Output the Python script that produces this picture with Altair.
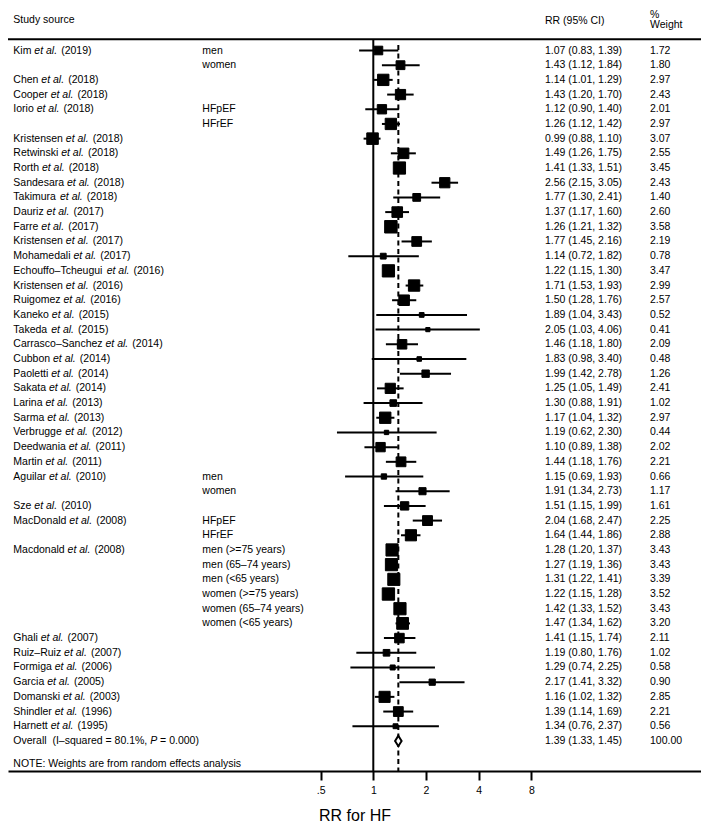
import math
import altair as alt
import pandas as pd

# ---------------- data ----------------
authors = ["Kim", "", "Chen", "Cooper", "Iorio", "", "Kristensen", "Retwinski", "Rorth",
           "Sandesara", "Takimura", "Dauriz", "Farre", "Kristensen", "Mohamedali",
           "Echouffo–Tcheugui", "Kristensen", "Ruigomez", "Kaneko", "Takeda",
           "Carrasco–Sanchez", "Cubbon", "Paoletti", "Sakata", "Larina", "Sarma",
           "Verbrugge", "Deedwania", "Martin", "Aguilar", "", "Sze", "MacDonald", "",
           "Macdonald", "", "", "", "", "", "Ghali", "Ruiz–Ruiz", "Formiga", "Garcia",
           "Domanski", "Shindler", "Harnett"]
years = ["2019", "", "2018", "2018", "2018", "", "2018", "2018", "2018", "2018", "2018",
         "2017", "2017", "2017", "2017", "2016", "2016", "2016", "2015", "2015", "2014",
         "2014", "2014", "2014", "2013", "2013", "2012", "2011", "2011", "2010", "",
         "2010", "2008", "", "2008", "", "", "", "", "", "2007", "2007", "2006", "2005",
         "2003", "1996", "1995"]
subgroups = ["men", "women", "", "", "HFpEF", "HFrEF", "", "", "", "", "", "", "", "", "",
             "", "", "", "", "", "", "", "", "", "", "", "", "", "", "men", "women", "",
             "HFpEF", "HFrEF", "men (>=75 years)", "men (65–74 years)", "men (<65 years)",
             "women (>=75 years)", "women (65–74 years)", "women (<65 years)",
             "", "", "", "", "", "", ""]
est = [1.07, 1.43, 1.14, 1.43, 1.12, 1.26, 0.99, 1.49, 1.41, 2.56, 1.77, 1.37, 1.26, 1.77,
       1.14, 1.22, 1.71, 1.50, 1.89, 2.05, 1.46, 1.83, 1.99, 1.25, 1.30, 1.17, 1.19, 1.10,
       1.44, 1.15, 1.91, 1.51, 2.04, 1.64, 1.28, 1.27, 1.31, 1.22, 1.42, 1.47, 1.41, 1.19,
       1.29, 2.17, 1.16, 1.39, 1.34]
lower = [0.83, 1.12, 1.01, 1.20, 0.90, 1.12, 0.88, 1.26, 1.33, 2.15, 1.30, 1.17, 1.21, 1.45,
         0.72, 1.15, 1.53, 1.28, 1.04, 1.03, 1.18, 0.98, 1.42, 1.05, 0.88, 1.04, 0.62, 0.89,
         1.18, 0.69, 1.34, 1.15, 1.68, 1.44, 1.20, 1.19, 1.22, 1.15, 1.33, 1.34, 1.15, 0.80,
         0.74, 1.41, 1.02, 1.14, 0.76]
upper = [1.39, 1.84, 1.29, 1.70, 1.40, 1.42, 1.10, 1.75, 1.51, 3.05, 2.41, 1.60, 1.32, 2.16,
         1.82, 1.30, 1.93, 1.76, 3.43, 4.06, 1.80, 3.40, 2.78, 1.49, 1.91, 1.32, 2.30, 1.38,
         1.76, 1.93, 2.73, 1.99, 2.47, 1.86, 1.37, 1.36, 1.41, 1.28, 1.52, 1.62, 1.74, 1.76,
         2.25, 3.32, 1.32, 1.69, 2.37]
weights = [1.72, 1.80, 2.97, 2.43, 2.01, 2.97, 3.07, 2.55, 3.45, 2.43, 1.40, 2.60, 3.58, 2.19,
           0.78, 3.47, 2.99, 2.57, 0.52, 0.41, 2.09, 0.48, 1.26, 2.41, 1.02, 2.97, 0.44, 2.02,
           2.21, 0.66, 1.17, 1.61, 2.25, 2.88, 3.43, 3.43, 3.39, 3.52, 3.43, 3.20, 2.11, 1.02,
           0.58, 0.90, 2.85, 2.21, 0.56]
overall_est, overall_lo, overall_hi, overall_w = 1.39, 1.33, 1.45, 100.00
i_squared = "80.1%"
p_value = "0.000"
tick_values = [0.5, 1, 2, 4, 8]

# ---------------- layout ----------------
FONT = "Liberation Sans"
FS = 10.5
PT = 6                      # top padding
W, H = 693, 763 - PT
ROW0, ROWSTEP = 42.5 - PT, 14.69
X1_PX, PX_PER_DOUBLING = 365.3, 52.7

HELV = {' ': 278, '(': 333, ')': 333, '.': 278, ',': 278, '%': 889, '=': 584, '–': 556,
        '-': 333, '<': 584, '>': 584,
        'A': 667, 'B': 667, 'C': 722, 'D': 722, 'E': 667, 'F': 611, 'G': 778, 'H': 722,
        'I': 278, 'J': 500, 'K': 667, 'L': 556, 'M': 833, 'N': 722, 'O': 778, 'P': 667,
        'Q': 778, 'R': 722, 'S': 667, 'T': 611, 'U': 722, 'V': 667, 'W': 944, 'X': 667,
        'Y': 667, 'Z': 611,
        'a': 556, 'b': 556, 'c': 500, 'd': 556, 'e': 556, 'f': 278, 'g': 556, 'h': 556,
        'i': 222, 'j': 222, 'k': 500, 'l': 222, 'm': 833, 'n': 556, 'o': 556, 'p': 556,
        'q': 556, 'r': 333, 's': 500, 't': 278, 'u': 556, 'v': 500, 'w': 722, 'x': 500,
        'y': 500, 'z': 500}


def tw(s):
    return sum(HELV.get(c, 556) for c in s) / 1000.0 * FS


SP = tw(" ")
n = len(est)
rows = list(range(n))
overall_row = n

df = pd.DataFrame({"row": rows, "est": est, "lo": lower, "hi": upper, "w": weights,
                   "sub": subgroups})
df["rr"] = [f"{e:.2f} ({l:.2f}, {h:.2f})" for e, l, h in zip(est, lower, upper)]
df["wt"] = [f"{w:.2f}" for w in weights]

tab = pd.concat([df[["row", "rr", "wt", "sub"]],
                 pd.DataFrame({"row": [overall_row],
                               "rr": [f"{overall_est:.2f} ({overall_lo:.2f}, {overall_hi:.2f})"],
                               "wt": [f"{overall_w:.2f}"], "sub": [""]})])

# study label segments (name, italic "et al.", year)
X0 = 5.3
seg = []
for r, (a, y) in enumerate(zip(authors, years)):
    if not a:
        continue
    x = X0
    seg.append({"row": r, "px": x, "t": a, "it": False})
    x += tw(a) + SP
    seg.append({"row": r, "px": x, "t": "et al.", "it": True})
    x += tw("et al.") + SP * 1.4
    seg.append({"row": r, "px": x, "t": f"({y})", "it": False})
x = X0
seg.append({"row": overall_row, "px": x, "t": "Overall", "it": False})
x += tw("Overall") + 2 * SP
t = f"(I–squared = {i_squared},"
seg.append({"row": overall_row, "px": x, "t": t, "it": False})
x += tw(t) + SP
seg.append({"row": overall_row, "px": x, "t": "P", "it": True})
x += tw("P") + SP
seg.append({"row": overall_row, "px": x, "t": f"= {p_value})", "it": False})
segdf = pd.DataFrame(seg)

# scales
lo_log = -X1_PX / PX_PER_DOUBLING
hi_log = (W - X1_PX) / PX_PER_DOUBLING
xs = alt.Scale(type="log", base=2, domain=[2 ** lo_log, 2 ** hi_log], nice=False, zero=False)
ytop = -ROW0 / ROWSTEP
ybot = (H - ROW0) / ROWSTEP
ys = alt.Scale(domain=[ybot, ytop], nice=False, zero=False)
Y = alt.Y("row:Q", scale=ys, axis=None)
PXS = alt.Scale(domain=[0, W], nice=False, zero=False)

base = alt.Chart(df)

ci = base.mark_rule(color="black", strokeWidth=2).encode(
    x=alt.X("lo:Q", scale=xs,
            axis=alt.Axis(values=tick_values, title="RR for HF", grid=False,
                          labelExpr="datum.value < 1 ? '.5' : format(datum.value, 'd')",
                          domainColor="black", domainWidth=2, tickColor="black",
                          tickWidth=2, tickSize=9, labelFont=FONT, labelFontSize=FS,
                          labelColor="black", labelPadding=5, titleFont=FONT,
                          titleFontSize=16, titleFontWeight="normal", titleColor="black",
                          titlePadding=12)),
    x2="hi:Q", y=Y)

squares = base.mark_square(filled=True, color="black", stroke="black", strokeWidth=1,
                           opacity=1).encode(
    x=alt.X("est:Q", scale=xs, axis=None), y=Y,
    size=alt.Size("w:Q", scale=alt.Scale(domain=[0, 3.58], range=[0, 155]), legend=None))

dots = base.mark_point(filled=True, shape="circle", size=20, color="black", opacity=1).encode(
    x=alt.X("est:Q", scale=xs, axis=None), y=Y)

ov = pd.DataFrame({"row": [overall_row], "est": [overall_est], "lo": [overall_lo],
                   "hi": [overall_hi]})
diamond = alt.Chart(ov).mark_point(shape="M0,-1L0.62,0L0,1L-0.62,0Z", filled=True,
                                   fill="white", stroke="black", strokeWidth=2, size=110,
                                   opacity=1).encode(
    x=alt.X("est:Q", scale=xs, axis=None), y=Y)

RULE_Y = 31.3 - PT
null_line = alt.Chart(pd.DataFrame({"v": [1.0]})).mark_rule(color="black", strokeWidth=2).encode(
    x=alt.X("v:Q", scale=xs, axis=None), y=alt.value(RULE_Y), y2=alt.value(H))

dash_line = alt.Chart(ov).mark_rule(color="black", strokeWidth=2, strokeDash=[5, 3.5]).encode(
    x=alt.X("est:Q", scale=xs, axis=None), y=alt.value(37 - PT), y2=alt.value(H))

top_rule = alt.Chart(ov).mark_rule(color="black", strokeWidth=2).encode(
    x=alt.value(0), x2=alt.value(W), y=alt.value(RULE_Y))

txt = dict(font=FONT, fontSize=FS, color="black", align="left", baseline="middle")

labels_n = alt.Chart(segdf[~segdf.it]).mark_text(**txt).encode(
    x=alt.X("px:Q", scale=PXS, axis=None), y=Y, text="t:N")
labels_i = alt.Chart(segdf[segdf.it]).mark_text(fontStyle="italic", **txt).encode(
    x=alt.X("px:Q", scale=PXS, axis=None), y=Y, text="t:N")

sub_text = alt.Chart(tab).mark_text(**txt).encode(x=alt.value(194.3), y=Y, text="sub:N")
rr_text = alt.Chart(tab).mark_text(**txt).encode(x=alt.value(537), y=Y, text="rr:N")
wt_text = alt.Chart(tab).mark_text(**txt).encode(x=alt.value(642), y=Y, text="wt:N")

headers = pd.DataFrame({"t": ["Study source", "RR (95% CI)", "%", "Weight"],
                        "x": [5.3, 537, 642, 642],
                        "y": [12.3 - PT, 12.7 - PT, 6.5 - PT, 16.8 - PT]})
head_layers = [alt.Chart(headers.iloc[[i]]).mark_text(**txt).encode(
    x=alt.value(float(headers.x[i])), y=alt.value(float(headers.y[i])), text="t:N")
    for i in range(len(headers))]

note = alt.Chart(ov).mark_text(**txt).encode(
    x=alt.value(5.3), y=alt.value(756 - PT),
    text=alt.value("NOTE: Weights are from random effects analysis"))

chart = alt.layer(null_line, dash_line, top_rule, ci, squares, dots, diamond, labels_n,
                  labels_i, sub_text, rr_text, wt_text, note, *head_layers).resolve_scale(
    x="independent").properties(
    width=W, height=H,
    autosize=alt.AutoSizeParams(type="none"),
    padding={"left": 0, "right": 0, "top": PT, "bottom": 56},
).configure_view(stroke=None)

chart.save("out.html", embed_options={"renderer": "svg", "actions": False})
